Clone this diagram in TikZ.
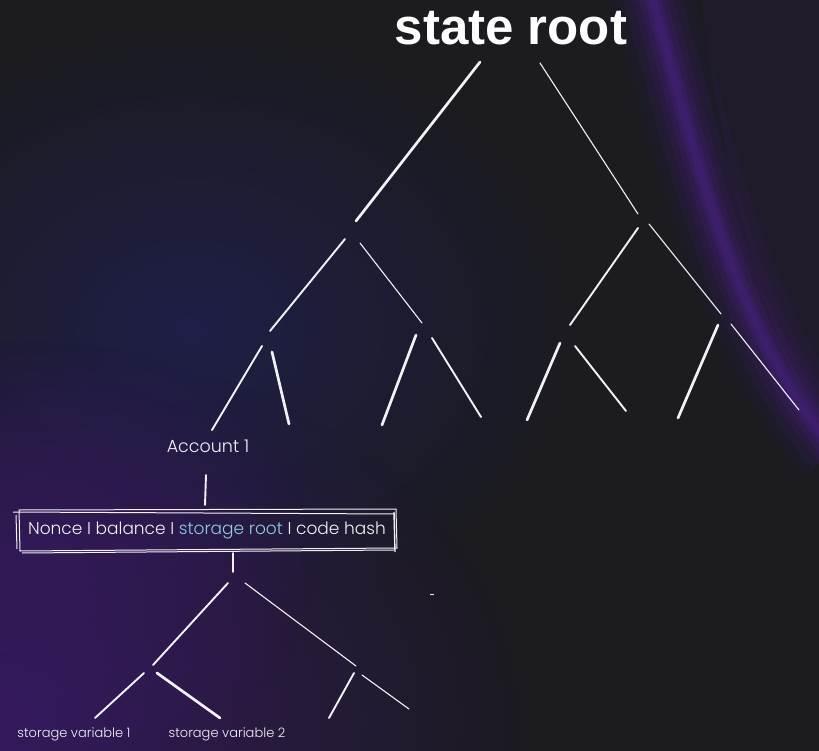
\documentclass[tikz,border=0pt]{standalone}
\usepackage{fontspec}
\usetikzlibrary{fadings}
\setmainfont{Poppins}
\newfontfamily\lightfont{Poppins Light}
\newfontfamily\boldfont{Liberation Sans Bold}
\definecolor{bg}{HTML}{1B1B20}
\definecolor{glowblue}{HTML}{1F1F48}
\definecolor{glowpurple}{HTML}{35195F}
\definecolor{streak}{HTML}{522294}
\definecolor{sroot}{HTML}{8FCBE3}
\definecolor{linec}{HTML}{F2F2F6}
\tikzfading[name=glowfade, inner color=transparent!0, outer color=transparent!100]
\tikzset{
  thinl/.style={draw=linec, line width=1.1pt, line cap=round},
  medl/.style={draw=linec, line width=1.9pt, line cap=round},
  thickl/.style={draw=linec, line width=2.7pt, line cap=round},
  lbl/.style={text=linec, inner sep=0pt, font=\lightfont\fontsize{17.5}{19}\selectfont},
  small/.style={text=linec, inner sep=0pt, font=\lightfont\fontsize{13}{15}\selectfont},
  glow/.style={path fading=glowfade, fit fading=true},
}
\begin{document}
\begin{tikzpicture}[x=1pt,y=-1pt]
\useasboundingbox (0,0) rectangle (819,751);
\fill[bg] (0,0) rectangle (819,751);
% background glows
\begin{scope}
\clip (0,0) rectangle (819,751);
\fill[glowblue, glow] (190,330) ellipse [x radius=380, y radius=300];
\fill[glowpurple, glow] (0,720) ellipse [x radius=520, y radius=380];
\fill[glowpurple, glow, opacity=0.7] (40,560) ellipse [x radius=280, y radius=220];
% faint tint right of the streak
\fill[streak, opacity=0.1] (700,-10) .. controls (720,150) and (760,330) .. (830,450) -- (830,-10) -- cycle;
\foreach \w/\o in {80/0.07,58/0.1,40/0.13,27/0.17,16/0.22,8/0.28}{
  \draw[streak, line width=\w pt, opacity=\o] (650,-10) .. controls (690,130) and (730,330) .. (835,450);
}
\end{scope}
% title
\node[text=white, inner sep=0pt, font=\boldfont\fontsize{51}{55}\selectfont] (title) at (511,28) {state root};
% state trie
\coordinate (a1) at (480,62);  \coordinate (a2) at (356,221);
\coordinate (b1) at (540,63);  \coordinate (b2) at (638,214);
\coordinate (c1) at (345,239); \coordinate (c2) at (270,331);
\coordinate (d1) at (360,243); \coordinate (d2) at (422,323);
\coordinate (e1) at (638,228); \coordinate (e2) at (570,325);
\coordinate (f1) at (649,224); \coordinate (f2) at (721,314);
\coordinate (g1) at (262,346); \coordinate (g2) at (212,430);
\coordinate (h1) at (272,352); \coordinate (h2) at (289,424);
\coordinate (i1) at (416,335); \coordinate (i2) at (382,425);
\coordinate (j1) at (432,338); \coordinate (j2) at (481,417);
\coordinate (k1) at (560,343); \coordinate (k2) at (527,420);
\coordinate (l1) at (575,346); \coordinate (l2) at (626,411);
\coordinate (m1) at (718,325); \coordinate (m2) at (678,418);
\coordinate (n1) at (731,324); \coordinate (n2) at (799,410);
\draw[thickl] (a1) -- (a2);
\draw[thinl] (b1) -- (b2);
\draw[medl] (c1) -- (c2);
\draw[thinl] (d1) -- (d2);
\draw[medl] (e1) -- (e2);
\draw[thinl] (f1) -- (f2);
\draw[medl] (g1) -- (g2);
\draw[thickl] (h1) -- (h2);
\draw[thickl] (i1) -- (i2);
\draw[medl] (j1) -- (j2);
\draw[thickl] (k1) -- (k2);
\draw[medl] (l1) -- (l2);
\draw[thickl] (m1) -- (m2);
\draw[thinl] (n1) -- (n2);
% account
\node[lbl] (acc) at (208,446) {Account 1};
\coordinate (v1) at (206,475); \coordinate (v2) at (205,505);
\draw[medl] (v1) -- (v2);
% hand drawn box
\draw[linec, line width=1pt] (19,510) -- (396,509) -- (397,548) -- (20,551) -- cycle;
\draw[linec, line width=1pt] (16,515) -- (17,549);
\draw[linec, line width=1pt] (13,512) -- (395,514);
\draw[linec, line width=1pt] (22,553) -- (394,550);
\draw[linec, line width=1.4pt] (394,512) -- (395,552);
\node[lbl, font=\lightfont\fontsize{17}{19}\selectfont] (acct) at (207,530)
  {Nonce I balance I \textcolor{sroot}{storage root} I code hash};
% storage trie
\coordinate (s0a) at (233,553); \coordinate (s0b) at (233,572);
\coordinate (s1a) at (228,583); \coordinate (s1b) at (153,665);
\coordinate (s2a) at (245,583); \coordinate (s2b) at (356,666);
\coordinate (s3a) at (144,673); \coordinate (s3b) at (95,718);
\coordinate (s4a) at (157,673); \coordinate (s4b) at (220,718);
\coordinate (s5a) at (354,673); \coordinate (s5b) at (329,718);
\coordinate (s6a) at (362,675); \coordinate (s6b) at (409,709);
\draw[medl] (s0a) -- (s0b);
\draw[medl] (s1a) -- (s1b);
\draw[thinl] (s2a) -- (s2b);
\draw[medl] (s3a) -- (s3b);
\draw[thickl] (s4a) -- (s4b);
\draw[medl] (s5a) -- (s5b);
\draw[thinl] (s6a) -- (s6b);
\coordinate (dsh1) at (430,594); \coordinate (dsh2) at (434,594);
\draw[linec, line width=0.8pt] (dsh1) -- (dsh2);
\node[small] (sv1) at (74,734) {storage variable 1};
\node[small] (sv2) at (227,734) {storage variable 2};
\end{tikzpicture}
\end{document}
